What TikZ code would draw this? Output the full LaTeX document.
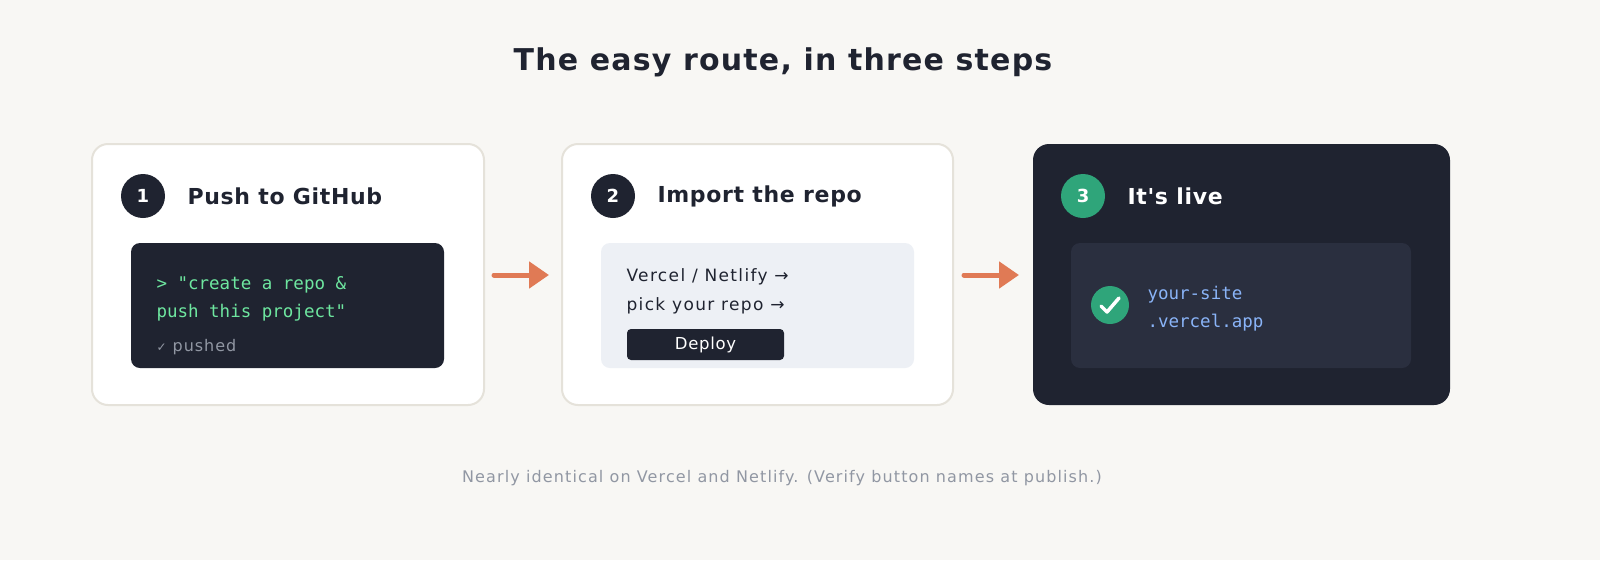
\documentclass[tikz,border=0pt]{standalone}
\usepackage{fontspec}
\setmainfont{DejaVu Sans}
\setmonofont{DejaVu Sans Mono}
\newfontfamily\plainb{DejaVu Sans}
\usetikzlibrary{arrows.meta}
\definecolor{bg}{HTML}{F8F7F4}
\definecolor{ink}{HTML}{1F2330}
\definecolor{cardline}{HTML}{E5E2DA}
\definecolor{term}{HTML}{1F2330}
\definecolor{grn}{HTML}{6EE7A0}
\definecolor{soft}{HTML}{EDF0F5}
\definecolor{panel3}{HTML}{2A2F3F}
\definecolor{okgreen}{HTML}{2FA57A}
\definecolor{link}{HTML}{8AB4F8}
\definecolor{orange}{HTML}{E07A55}
\definecolor{gray}{HTML}{9197A3}
\begin{document}
\begin{tikzpicture}[x=1pt,y=-1pt,
  card/.style={draw=cardline,line width=2pt,fill=white,rounded corners=16pt},
  num/.style={circle,fill=ink,minimum size=44pt,inner sep=0pt,text=white,font=\bfseries\fontsize{18}{18}\selectfont},
  head/.style={anchor=west,text=ink,font=\bfseries\fontsize{22}{22}\selectfont\addfontfeature{LetterSpace=3}},
  body/.style={anchor=west,text=ink,font=\fontsize{17}{17}\selectfont\addfontfeature{LetterSpace=8}},
  mono/.style={anchor=west,font=\ttfamily\fontsize{17.5}{17.5}\selectfont},
  flow/.style={orange,line width=5pt,line cap=round,-{Triangle[length=20pt,width=26pt]}}]
\useasboundingbox (0,0) rectangle (1600,560);
\fill[bg] (0,0) rectangle (1600,560);
\node[text=ink,font=\bfseries\fontsize{30}{30}\selectfont\addfontfeature{LetterSpace=4}] (title) at (783,62) {The easy route, in three steps};
% card 1
\draw[card] (92,144) rectangle (484,405);
\node[num] (n1) at (143,196) {1};
\node[head] (h1) at (184,196) {Push to GitHub};
\fill[term,rounded corners=9pt] (131,243) rectangle (444,368);
\node[mono,text=grn] (c1) at (153,285) {> "create a repo \&};
\node[mono,text=grn] (c2) at (153,313) {push this project"};
\node[body,text=gray,font=\fontsize{16}{16}\selectfont\addfontfeature{LetterSpace=6}] (c3) at (153,347) {{\fontsize{12}{12}\selectfont ✓} pushed};
% card 2
\draw[card] (562,144) rectangle (953,405);
\node[num] (n2) at (613,196) {2};
\node[head] (h2) at (654,196) {Import the repo};
\fill[soft,rounded corners=9pt] (601,243) rectangle (914,368);
\node[body] (v1) at (623,277) {Vercel / Netlify →};
\node[body] (v2) at (623,306) {pick your repo →};
\node[fill=ink,rounded corners=4pt,minimum width=157pt,minimum height=31pt,text=white,font=\fontsize{16.5}{16.5}\selectfont\addfontfeature{LetterSpace=4}] (dep) at (705.5,344.5) {Deploy};
% card 3
\fill[ink,rounded corners=16pt] (1033,144) rectangle (1450,405);
\node[num,fill=okgreen] (n3) at (1083,196) {3};
\node[head,text=white,font=\plainb\bfseries\fontsize{22}{22}\selectfont\addfontfeature{LetterSpace=3}] (h3) at (1124,196) {It's live};
\fill[panel3,rounded corners=9pt] (1071,243) rectangle (1411,368);
\node[circle,fill=okgreen,minimum size=38pt,inner sep=0pt] (ok) at (1110,305) {};
\draw[white,line width=3.5pt,line cap=round,line join=round] (1101,306) -- (1107,312) -- (1119,298);
\node[mono,text=link] (u1) at (1144,295) {your-site};
\node[mono,text=link] (u2) at (1144,323) {.vercel.app};
% arrows
\coordinate (a1s) at (494,275); \coordinate (a1e) at (549,275);
\coordinate (a2s) at (964,275); \coordinate (a2e) at (1019,275);
\draw[flow] (a1s) -- (a1e);
\draw[flow] (a2s) -- (a2e);
\node[text=gray,font=\fontsize{16}{16}\selectfont\addfontfeature{LetterSpace=7}] (foot) at (782,478) {Nearly identical on Vercel and Netlify. (Verify button names at publish.)};
\end{tikzpicture}
\end{document}
